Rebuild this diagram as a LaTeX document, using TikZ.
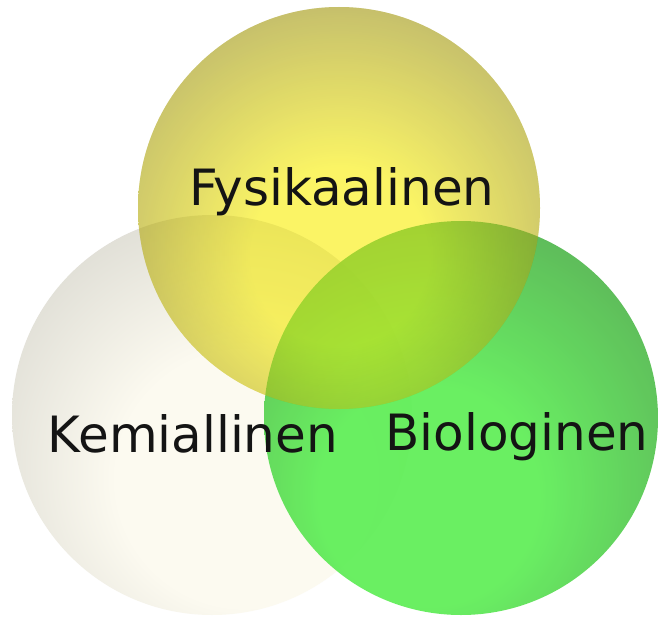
\documentclass[tikz,border=0pt]{standalone}
\usepackage{fontspec}
\setmainfont{DejaVu Sans}
\usepackage{tikz}
\usetikzlibrary{positioning,backgrounds}

\definecolor{fysbright}{RGB}{250,242,52}
\definecolor{fysmid}{RGB}{178,170,60}
\definecolor{fysedge}{RGB}{120,114,50}
\definecolor{kembright}{RGB}{252,250,240}
\definecolor{kemmid}{RGB}{215,214,206}
\definecolor{kemedge}{RGB}{125,125,121}
\definecolor{biobright}{RGB}{90,238,82}
\definecolor{biomid}{RGB}{75,172,72}
\definecolor{bioedge}{RGB}{40,88,45}

% 50bp = radius of the ball
\pgfdeclareradialshading{fysshade}{\pgfpoint{0bp}{-7bp}}{color(0bp)=(fysbright); color(11bp)=(fysbright); color(30bp)=(fysmid); color(54bp)=(fysedge); color(80bp)=(fysedge)}
\pgfdeclareradialshading{kemshade}{\pgfpoint{5bp}{-10bp}}{color(0bp)=(kembright); color(16bp)=(kembright); color(38bp)=(kemmid); color(60bp)=(kemedge); color(80bp)=(kemedge)}
\pgfdeclareradialshading{bioshade}{\pgfpoint{-5bp}{-12bp}}{color(0bp)=(biobright); color(14bp)=(biobright); color(36bp)=(biomid); color(62bp)=(bioedge); color(80bp)=(bioedge)}

\tikzset{
	ball/.style={circle, inner sep=0pt, minimum size=400pt},
	label text/.style={anchor=base, font=\fontsize{50}{60}\selectfont, text=black!92}
}

\begin{document}
\begin{tikzpicture}[x=1pt, y=-1pt]

	\fill [white] (0,0) rectangle (661,618);

	% the three fields
	\node[ball, minimum size=400pt, shading=kemshade] (kem) at (212,415) {};
	\node[ball, minimum size=394pt, shading=bioshade, fill opacity=.9] (bio) at (461,418) {};
	\node[ball, minimum size=402pt, shading=fysshade, blend mode=multiply, fill opacity=.55] (fys) at (339,208) {};
	\path [shading=fysshade, fill opacity=.45] (fys.center) circle [radius=201pt];

	\node[label text] (fystext) at (342,205) {Fysikaalinen};
	\node[label text] (kemtext) at (193,452) {Kemiallinen};
	\node[label text] (biotext) at (517,450) {Biologinen};

\end{tikzpicture}
\end{document}
